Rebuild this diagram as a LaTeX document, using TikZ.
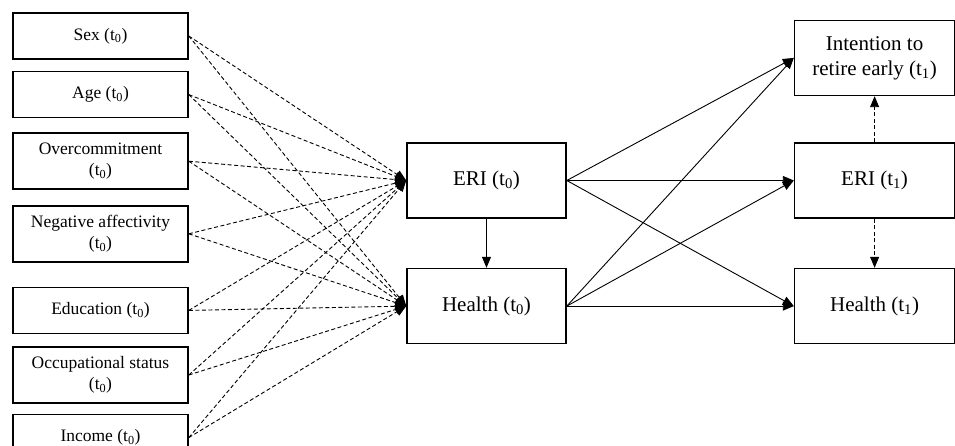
\documentclass[tikz,border=0pt]{standalone}
\usepackage{fontspec}
\setmainfont{Liberation Serif}
\usetikzlibrary{positioning,arrows.meta}

\begin{document}
\begin{tikzpicture}[
        x=1pt,
        y=-1pt,
        >={Triangle[length=11pt,width=9pt]},
        leftbox/.style={
            rectangle,
            draw,
            line width=1.6pt,
            align=center,
            minimum width=175pt,
            minimum height=46pt,
            inner sep=2pt,
            font=\fontsize{17.5}{21}\selectfont
        },
        twoline/.style={leftbox, minimum height=56pt},
        mainbox/.style={
            rectangle,
            draw,
            line width=1.6pt,
            align=center,
            minimum width=159pt,
            minimum height=75pt,
            font=\fontsize{21}{25}\selectfont
        },
        line/.style={->, line width=0.9pt},
        dashline/.style={->, line width=0.9pt, dash pattern=on 4pt off 2.5pt}
    ]

    \clip (0,0) rectangle (955,446);

    % LEFT: COVARIATES (t0)
    \node[leftbox] (sex) at (100.5,36) {Sex (t\textsubscript{0})};
    \node[leftbox, below=11pt of sex] (age) {Age (t\textsubscript{0})};
    \node[twoline, below=14pt of age] (over) {Overcommitment\\(t\textsubscript{0})};
    \node[twoline, below=15pt of over] (neg) {Negative affectivity\\(t\textsubscript{0})};
    \node[leftbox, below=24pt of neg] (edu) {Education (t\textsubscript{0})};
    \node[twoline, below=12pt of edu] (occ) {Occupational status\\(t\textsubscript{0})};
    \node[leftbox, below=10pt of occ] (inc) {Income (t\textsubscript{0})};

    % MIDDLE: BASELINE
    \node[mainbox] (eri0) at (486.5,180.5) {ERI (t\textsubscript{0})};
    \node[mainbox, below=49pt of eri0] (health0) {Health (t\textsubscript{0})};

    % RIGHT: FOLLOW-UP
    \node[mainbox, minimum width=160pt, right=227pt of eri0] (eri1) {ERI (t\textsubscript{1})};
    \node[mainbox, minimum width=160pt, above=46pt of eri1] (intent) {Intention to\\retire early (t\textsubscript{1})};
    \node[mainbox, minimum width=160pt, below=49pt of eri1] (health1) {Health (t\textsubscript{1})};

    % ============================================================
    % CONNECTIONS: Covariates to ERI (t0)
    % ============================================================
    \draw[dashline] (sex.east) -- (eri0.west);
    \draw[dashline] (age.east) -- (eri0.west);
    \draw[dashline] (over.east) -- (eri0.west);
    \draw[dashline] (neg.east) -- (eri0.west);
    \draw[dashline] (edu.east) -- (eri0.west);
    \draw[dashline] (occ.east) -- (eri0.west);
    \draw[dashline] (inc.east) -- (eri0.west);

    % ============================================================
    % CONNECTIONS: Covariates to Health (t0)
    % ============================================================
    \draw[dashline] (sex.east) -- (health0.west);
    \draw[dashline] (age.east) -- (health0.west);
    \draw[dashline] (over.east) -- (health0.west);
    \draw[dashline] (neg.east) -- (health0.west);
    \draw[dashline] (edu.east) -- (health0.west);
    \draw[dashline] (occ.east) -- (health0.west);
    \draw[dashline] (inc.east) -- (health0.west);

    % ============================================================
    % CONNECTIONS: Baseline to follow-up
    % ============================================================
    \draw[line] (eri0) -- (health0);
    \draw[line] (eri0.east) -- (intent.west);
    \draw[line] (eri0.east) -- (eri1.west);
    \draw[line] (eri0.east) -- (health1.west);
    \draw[line] (health0.east) -- (intent.west);
    \draw[line] (health0.east) -- (eri1.west);
    \draw[line] (health0.east) -- (health1.west);

    % ============================================================
    % CONNECTIONS: Within follow-up
    % ============================================================
    \draw[dashline] (eri1) -- (intent);
    \draw[dashline] (eri1) -- (health1);

\end{tikzpicture}
\end{document}
